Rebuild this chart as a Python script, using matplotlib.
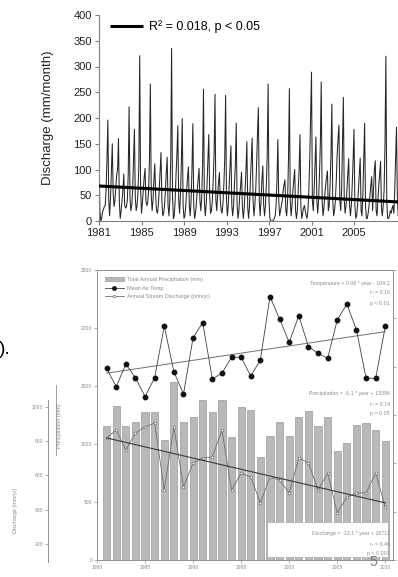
import numpy as np
import matplotlib
matplotlib.use("Agg")
import matplotlib.pyplot as plt
from matplotlib.patches import Rectangle, Patch
from matplotlib.lines import Line2D

plt.rcParams['font.family'] = ['Liberation Sans', 'DejaVu Sans']

# ---------------- top chart: monthly discharge (mm/month) ----------------
q1981 = [143, 20, 0, 5, 18, 22, 28, 30, 60, 120, 196, 40]
q1982 = [10, 45, 95, 150, 55, 28, 40, 65, 90, 100, 160, 35]
q1983 = [5, 20, 40, 60, 91, 30, 25, 28, 40, 90, 222, 45]
q1984 = [20, 30, 60, 120, 178, 45, 20, 30, 55, 110, 321, 60]
q1985 = [15, 35, 60, 85, 102, 40, 30, 35, 60, 120, 266, 50]
q1986 = [20, 40, 80, 111, 50, 20, 15, 30, 60, 95, 133, 40]
q1987 = [10, 15, 30, 60, 95, 124, 30, 10, 40, 120, 335, 50]
q1988 = [5, 10, 40, 90, 130, 185, 40, 15, 50, 110, 199, 30]
q1989 = [5, 10, 30, 60, 85, 105, 30, 10, 40, 100, 189, 30]
q1990 = [5, 15, 35, 60, 80, 102, 40, 20, 45, 110, 256, 40]
q1991 = [10, 30, 70, 120, 168, 50, 15, 20, 40, 80, 130, 246]
q1992 = [40, 20, 50, 75, 94, 40, 20, 15, 35, 70, 120, 244]
q1993 = [40, 10, 30, 70, 110, 146, 30, 10, 30, 70, 110, 190]
q1994 = [30, 5, 20, 50, 70, 95, 25, 5, 25, 60, 100, 154]
q1995 = [25, 5, 30, 80, 120, 161, 40, 10, 30, 60, 110, 170]
q1996 = [220, 40, 10, 40, 80, 107, 30, 10, 30, 70, 130, 266]
q1997 = [40, 5, 0, 0, 0, 2, 5, 10, 30, 80, 158, 40]
q1998 = [10, 20, 30, 40, 60, 70, 80, 20, 10, 40, 120, 257]
q1999 = [40, 10, 30, 60, 80, 100, 20, 5, 20, 60, 100, 168]
q2000 = [30, 5, 15, 25, 30, 20, 10, 5, 20, 60, 120, 200]
q2001 = [289, 40, 20, 60, 110, 163, 40, 15, 40, 90, 150, 270]
q2002 = [40, 10, 25, 50, 70, 85, 97, 20, 30, 70, 130, 227]
q2003 = [40, 10, 20, 40, 80, 130, 160, 186, 40, 20, 60, 150]
q2004 = [240, 40, 15, 30, 60, 90, 121, 30, 10, 30, 70, 120]
q2005 = [178, 30, 5, 10, 30, 60, 90, 122, 20, 10, 50, 120]
q2006 = [190, 30, 5, 5, 15, 30, 50, 70, 86, 20, 60, 100]
q2007 = [117, 20, 10, 40, 70, 90, 116, 25, 10, 30, 60, 150]
q2008 = [320, 40, 5, 5, 10, 20, 15, 25, 30, 15, 60, 120]
q2009 = [182, 40, 10, 20, 40, 60, 80, 60, 30, 20, 50, 100]

monthly_q = (q1981 + q1982 + q1983 + q1984 + q1985 + q1986 + q1987 + q1988 +
             q1989 + q1990 + q1991 + q1992 + q1993 + q1994 + q1995 + q1996 +
             q1997 + q1998 + q1999 + q2000 + q2001 + q2002 + q2003 + q2004 +
             q2005 + q2006 + q2007 + q2008 + q2009)
first_year = 1981
trend_years = [1981, 2009.2]
trend_vals = [68, 37]
top_xticks = [1981, 1985, 1989, 1993, 1997, 2001, 2005]
top_yticks = [0, 50, 100, 150, 200, 250, 300, 350, 400]
legend_label = "R² = 0.018, p < 0.05"

# ---------------- bottom chart: annual values ----------------
years = list(range(1981, 2011))
precip = [1158, 1330, 1158, 1187, 1273, 1273, 1034, 1537, 1187, 1235,
          1379, 1273, 1379, 1057, 1316, 1293, 890, 1071, 1187, 1071,
          1235, 1287, 1158, 1230, 942, 1006, 1164, 1184, 1121, 1028]
temp = [7.93, 7.17, 8.11, 7.54, 6.76, 7.54, 9.68, 7.79, 6.87, 9.20,
        9.82, 7.49, 7.73, 8.39, 8.39, 7.61, 8.28, 10.90, 9.97, 9.01,
        10.11, 8.83, 8.55, 8.35, 9.93, 10.59, 9.52, 7.52, 7.52, 9.68]
discharge = [819, 865, 749, 848, 883, 906, 515, 883, 533, 673,
             702, 708, 865, 515, 614, 590, 440, 590, 573, 498,
             702, 673, 515, 614, 381, 474, 498, 498, 614, 416]
temp_trend_years = [1981, 2010]
temp_trend_vals = [7.73, 9.45]
dis_trend_years = [1981, 2010]
dis_trend_vals = [819, 440]
bottom_xticks = [1980, 1985, 1990, 1995, 2000, 2005, 2010]
precip_ticks = [0, 500, 1000, 1500, 2000, 2500]
dis_ticks = [200, 400, 600, 800, 1000]
temp_ticks = [0, 2, 4, 6, 8, 10, 12]
legend_texts = ["Total Annual Precipitation (mm)", "Mean Air Temp",
                "Annual Stream Discharge (mm/yr)"]
temp_eq = ["Temperature = 0.06 * year - 109.2", "r² = 0.16", "p < 0.01"]
precip_eq = ["Precipitation = -6.1 * year + 13396", "r² = 0.14", "p = 0.05"]
dis_eq = ["Discharge = -13.1 * year + 26711", "r² = 0.46", "p < 0.001"]

W, H = 398, 577
fig = plt.figure(figsize=(W / 100, H / 100), dpi=100)

def fx(px):
    return px / W

def fy(py):
    return 1 - py / H

# ---------------- top axes ----------------
ax1 = fig.add_axes([fx(99), fy(221), fx(398) - fx(99), fy(15) - fy(221)])
t = first_year + np.arange(len(monthly_q)) / 12.0
ax1.plot(t, monthly_q, color='#262626', lw=0.75, zorder=2)
trend_line, = ax1.plot(trend_years, trend_vals, color='black', lw=2.2,
                       solid_capstyle='butt', zorder=3)
ax1.set_xlim(1981, 1981 + 299 / 10.625)
ax1.set_ylim(0, 400)
ax1.set_xticks(top_xticks)
ax1.set_yticks(top_yticks)
for s in ['top', 'right']:
    ax1.spines[s].set_visible(False)
for s in ['left', 'bottom']:
    ax1.spines[s].set_color('#7f7f7f')
    ax1.spines[s].set_linewidth(0.8)
ax1.tick_params(labelsize=8, length=3, width=0.8, color='#7f7f7f',
                labelcolor='#222222', pad=2)
ax1.set_ylabel('Discharge (mm/month)', fontsize=9.5, color='#222222')
ax1.yaxis.set_label_coords(-0.150, 0.5)
ax1.legend([trend_line], [legend_label], loc='upper left',
           bbox_to_anchor=(0.037, 0.975), frameon=False, fontsize=9,
           handlelength=2.6, handletextpad=0.5, borderpad=0, borderaxespad=0)

# ---------------- bottom axes ----------------
grey = '#8c8c8c'
ax2 = fig.add_axes([fx(97), fy(560), fx(393) - fx(97), fy(270) - fy(560)])
ax2.bar(years, precip, width=0.75, color='#b9b9b9', edgecolor='#8a8a8a',
        linewidth=0.4, zorder=1)
ax2.set_xlim(1980, 2010.8)
ax2.set_ylim(0, 2500)
ax2.set_xticks(bottom_xticks)
ax2.set_yticks(precip_ticks)
for s in ax2.spines.values():
    s.set_color('#909090')
    s.set_linewidth(0.7)
ax2.tick_params(labelsize=3.6, length=2, width=0.5, color=grey,
                labelcolor=grey, pad=1.5)

# white box behind discharge equation
ax2.add_patch(Rectangle(((268 - 97) / 296, (560 - 557) / 290), 0.405,
                        (557 - 523) / 290, transform=ax2.transAxes,
                        facecolor='white', edgecolor='none', zorder=4))

# temperature on a twin axis
ax3 = ax2.twinx()
ax3.set_ylim(0, 12)
ax3.plot(years, temp, color='#404040', lw=0.6, marker='o', ms=3.2,
         mfc='#111111', mec='#111111', zorder=5)
ax3.plot(temp_trend_years, temp_trend_vals, color='#707070', lw=0.7, zorder=4)
ax3.set_yticks(temp_ticks)
ax3.tick_params(axis='y', length=2, width=0.5, color=grey, labelright=False)
for s in ax3.spines.values():
    s.set_visible(False)

# discharge on another hidden twin axis, mapped like the outer discharge axis
ax4 = ax2.twinx()
ax4.set_ylim(106.8, 1798.7)
ax4.plot(years, discharge, color='#6e6e6e', lw=0.6, marker='o', ms=2.0,
         mfc='white', mec='#555555', mew=0.4, zorder=5)
ax4.plot(dis_trend_years, dis_trend_vals, color='#3a3a3a', lw=0.8, zorder=5)
ax4.set_yticks([])
for s in ax4.spines.values():
    s.set_visible(False)

# legend of bottom chart
handles = [Patch(facecolor='#b9b9b9', edgecolor='#8a8a8a', lw=0.4),
           Line2D([], [], color='#404040', lw=0.6, marker='o', ms=2.5,
                  mfc='#111111', mec='#111111'),
           Line2D([], [], color='#6e6e6e', lw=0.6, marker='o', ms=2.0,
                  mfc='white', mec='#555555', mew=0.4)]
leg = ax4.legend(handles, legend_texts, loc='upper left',
                 bbox_to_anchor=(0.027, 0.975), frameon=False, fontsize=4,
                 labelcolor=grey, handlelength=3.4, handletextpad=0.5,
                 labelspacing=0.6, borderpad=0, borderaxespad=0)

def eq_block(lines, ys):
    for txt, py in zip(lines, ys):
        ax4.text(0.99, (560 - py) / 290, txt, transform=ax2.transAxes,
                 ha='right', va='center', fontsize=3.8, color=grey, zorder=6)

eq_block(temp_eq, [283, 293, 303])
eq_block(precip_eq, [394, 404, 414])
eq_block(dis_eq, [533, 544, 553])

# outer discharge axis on the left
ax5 = fig.add_axes([fx(48), fy(562), 0.0005, fy(400) - fy(562)])
ax5.set_ylim((578.3 - 562) / 0.1714, (578.3 - 400) / 0.1714)
ax5.set_yticks(dis_ticks)
ax5.set_xticks([])
ax5.patch.set_visible(False)
for s in ['top', 'right', 'bottom']:
    ax5.spines[s].set_visible(False)
ax5.spines['left'].set_color('#909090')
ax5.spines['left'].set_linewidth(0.7)
ax5.tick_params(labelsize=3.6, length=2, width=0.5, color=grey,
                labelcolor=grey, pad=1.5)
fig.text(fx(16), fy(510), 'Discharge (mm/yr)', rotation=90, ha='center',
         va='center', fontsize=4, color=grey)
fig.text(fx(60), fy(426), 'Precipitation (mm)', rotation=90, ha='center',
         va='center', fontsize=4, color=grey)
fig.add_artist(Line2D([fx(56), fx(56)], [fy(385), fy(455)], color='#909090',
                      lw=0.6))

# slide text fragments
fig.text(fx(-1), fy(349), ').', fontsize=14, color='black', ha='left',
         va='center')
fig.text(fx(373), fy(562), '5', fontsize=10, color='#7f7f7f', ha='center',
         va='center')

fig.savefig('out.png', dpi=100)
